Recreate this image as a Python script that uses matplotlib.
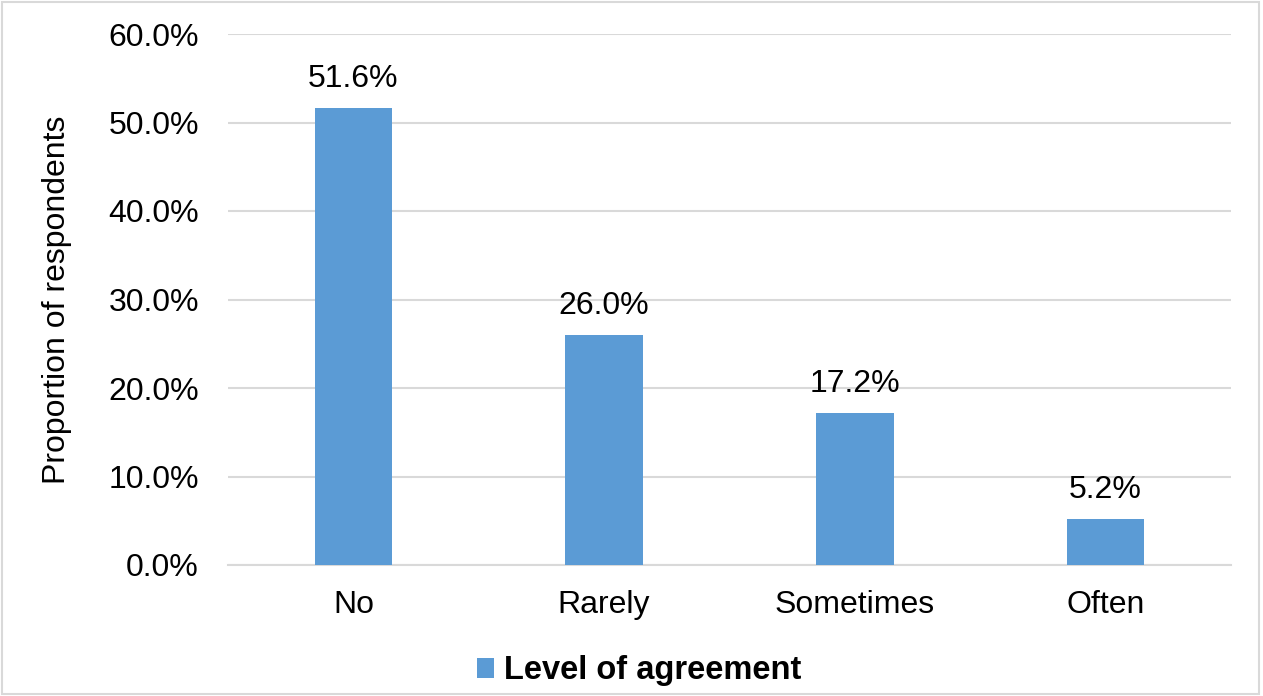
import matplotlib
matplotlib.use("Agg")
import matplotlib.pyplot as plt
from matplotlib.patches import Rectangle
from matplotlib.ticker import FuncFormatter

categories = ["No", "Rarely", "Sometimes", "Often"]
values = [51.6, 26.0, 17.2, 5.2]
series_name = "Level of agreement"
y_ticks = [0, 10, 20, 30, 40, 50, 60]

plt.rcParams["font.family"] = ["Liberation Sans", "DejaVu Sans"]

bar_color = "#5B9BD5"
grid_color = "#D9D9D9"
fs = 23

fig = plt.figure(figsize=(12.63, 6.96), dpi=100)
ax = fig.add_axes([228 / 1263, 131 / 696, 1003 / 1263, 531 / 696])

x = range(len(categories))
ax.bar(x, values, width=0.31, color=bar_color, label=series_name, zorder=3)

for xi, v in zip(x, values):
    ax.annotate(f"{v:.1f}%", (xi, v), xytext=(0, 10), textcoords="offset points",
                ha="center", va="bottom", fontsize=fs, color="#000000")

ax.set_xlim(-0.5, len(categories) - 0.5)
ax.set_ylim(0, 60)
ax.set_yticks(y_ticks)
ax.yaxis.set_major_formatter(FuncFormatter(lambda v, _: f"{v:.1f}%"))
ax.set_xticks(list(x))
ax.set_xticklabels(categories)
ax.tick_params(axis="both", length=0, labelsize=fs, colors="#000000")
ax.tick_params(axis="y", pad=21)
ax.tick_params(axis="x", pad=18)

ax.grid(axis="y", color=grid_color, linewidth=1.5, zorder=0)
for side in ["top", "right", "left"]:
    ax.spines[side].set_visible(False)
ax.spines["bottom"].set_color(grid_color)
ax.spines["bottom"].set_linewidth(1.5)

ax.set_ylabel("Proportion of respondents", fontsize=fs, labelpad=26)

leg = fig.legend(loc="center", bbox_to_anchor=((639 / 1263), 1 - 671 / 696), frameon=False,
                 prop={"size": 23.5, "weight": "bold"}, handlelength=0.53, handleheight=0.53,
                 handletextpad=0.3)

fig.patches.append(Rectangle((2 / 1263, 2 / 696), 1257 / 1263, 692 / 696,
                             transform=fig.transFigure, fill=False,
                             edgecolor=grid_color, linewidth=1.5))

fig.savefig("out.png", dpi=100)
